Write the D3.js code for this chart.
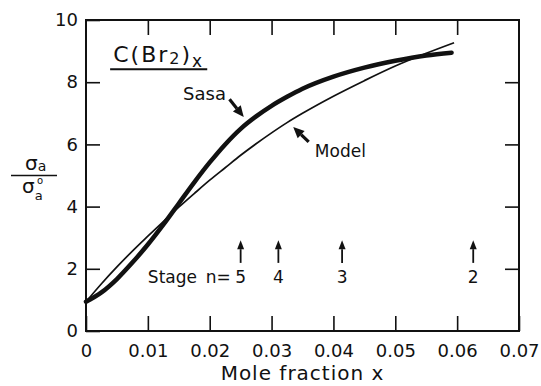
<!DOCTYPE html>
<html>
<head>
<meta charset="utf-8">
<script src="https://cdn.jsdelivr.net/npm/d3@7"></script>
<style>
  body { margin: 0; background: #fff; }
  text { font-family: "DejaVu Sans", sans-serif; fill: #111; }
</style>
</head>
<body>
<div id="graph"></div>
<script>
// values
const xTicks = [0, 0.01, 0.02, 0.03, 0.04, 0.05, 0.06, 0.07];
const yTicks = [0, 2, 4, 6, 8, 10];

// Sasa (thick curve)
const sasaX = [0, 0.0025, 0.005, 0.0075, 0.01, 0.0125, 0.015, 0.0175, 0.02, 0.0225, 0.025, 0.0275, 0.03, 0.0325, 0.035, 0.04, 0.045, 0.05, 0.055, 0.0591];
const sasaY = [0.94, 1.24, 1.67, 2.2, 2.78, 3.42, 4.1, 4.78, 5.42, 6.0, 6.5, 6.9, 7.24, 7.53, 7.79, 8.18, 8.47, 8.69, 8.86, 8.95];

// Model (thin curve)
const modelX = [0, 0.0025, 0.005, 0.0075, 0.01, 0.0125, 0.015, 0.0175, 0.02, 0.0225, 0.025, 0.0275, 0.03, 0.0325, 0.035, 0.04, 0.045, 0.05, 0.055, 0.0595];
const modelY = [0.94, 1.52, 2.06, 2.57, 3.05, 3.52, 3.98, 4.42, 4.85, 5.25, 5.65, 6.02, 6.37, 6.7, 7.0, 7.55, 8.05, 8.52, 8.93, 9.27];

// stage markers
const stageX = [0.025, 0.0311, 0.0414, 0.0626];
const stageLabels = ["5", "4", "3", "2"];

const W = 541, H = 386;
const mLeft = 86, mRight = 519, mTop = 20, mBottom = 331;

const svg = d3.select("#graph").append("svg")
    .attr("width", W)
    .attr("height", H);

const x = d3.scaleLinear().domain([0, 0.07]).range([mLeft, mRight]);
const y = d3.scaleLinear().domain([0, 10]).range([mBottom, mTop]);

// frame
svg.append("rect")
    .attr("x", mLeft).attr("y", mTop)
    .attr("width", mRight - mLeft).attr("height", mBottom - mTop)
    .attr("fill", "none").attr("stroke", "#111").attr("stroke-width", 2);

const xFmt = d => d === 0 ? "0" : d.toFixed(2);

// bottom axis with labels, ticks pointing inward
const gx = svg.append("g")
    .attr("transform", "translate(0," + mBottom + ")")
    .call(d3.axisBottom(x).tickValues(xTicks).tickFormat(xFmt).tickSize(-15).tickPadding(13));
gx.select(".domain").remove();
gx.selectAll("line").attr("stroke", "#111").attr("stroke-width", 1.6);
gx.selectAll("text").attr("font-size", 18).style("font-family", "DejaVu Sans").attr("fill", "#111");

const gxt = svg.append("g")
    .attr("transform", "translate(0," + mTop + ")")
    .call(d3.axisTop(x).tickValues(xTicks.slice(1, -1)).tickFormat("").tickSize(-15));
gxt.select(".domain").remove();
gxt.selectAll("line").attr("stroke", "#111").attr("stroke-width", 1.6);

const gy = svg.append("g")
    .attr("transform", "translate(" + mLeft + ",0)")
    .call(d3.axisLeft(y).tickValues(yTicks).tickSize(-14).tickPadding(8));
gy.select(".domain").remove();
gy.selectAll("line").attr("stroke", "#111").attr("stroke-width", 1.6);
gy.selectAll("text").attr("font-size", 18).style("font-family", "DejaVu Sans").attr("fill", "#111");

const gyr = svg.append("g")
    .attr("transform", "translate(" + mRight + ",0)")
    .call(d3.axisRight(y).tickValues(yTicks.slice(1, -1)).tickFormat("").tickSize(-14));
gyr.select(".domain").remove();
gyr.selectAll("line").attr("stroke", "#111").attr("stroke-width", 1.6);

// curves
const line = d3.line()
    .x(d => x(d[0]))
    .y(d => y(d[1]))
    .curve(d3.curveMonotoneX);

svg.append("path")
    .attr("d", line(modelX.map((v, i) => [v, modelY[i]])))
    .attr("fill", "none").attr("stroke", "#111").attr("stroke-width", 1.7);

svg.append("path")
    .attr("d", line(sasaX.map((v, i) => [v, sasaY[i]])))
    .attr("fill", "none").attr("stroke", "#111").attr("stroke-width", 4.5)
    .attr("stroke-linecap", "round");

// arrow helper: line from tail to tip plus filled head
function arrow(x0, y0, x1, y1, headLen, headW, lw) {
  const px0 = x(x0), py0 = y(y0), px1 = x(x1), py1 = y(y1);
  const a = Math.atan2(py1 - py0, px1 - px0);
  const bx = px1 - headLen * Math.cos(a), by = py1 - headLen * Math.sin(a);
  svg.append("line")
      .attr("x1", px0).attr("y1", py0).attr("x2", bx).attr("y2", by)
      .attr("stroke", "#111").attr("stroke-width", lw);
  const nx = -Math.sin(a) * headW / 2, ny = Math.cos(a) * headW / 2;
  svg.append("polygon")
      .attr("points", [[px1, py1], [bx + nx, by + ny], [bx - nx, by - ny]].map(p => p.join(",")).join(" "))
      .attr("fill", "#111");
}

// Sasa / Model labels and arrows
svg.append("text").attr("x", x(0.0157)).attr("y", y(7.43))
    .attr("font-size", 18).text("Sasa");
arrow(0.0232, 7.45, 0.0255, 6.88, 11, 10, 3.2);

svg.append("text").attr("x", x(0.037)).attr("y", y(5.6))
    .attr("font-size", 17).text("Model");
arrow(0.036, 6.08, 0.0335, 6.56, 11, 10, 3.2);

// title C(Br2)x with underline
const title = svg.append("text").attr("x", x(0.0044)).attr("y", y(8.65))
    .attr("font-size", 22).attr("letter-spacing", 2);
title.append("tspan").text("C(Br");
title.append("tspan").attr("font-size", 16).attr("dy", 2).text("2");
title.append("tspan").attr("dy", -2).text(")");
title.append("tspan").attr("font-size", 17).attr("dy", 5).text("x");
svg.append("line")
    .attr("x1", x(0.0039)).attr("x2", x(0.0196))
    .attr("y1", y(8.42)).attr("y2", y(8.42))
    .attr("stroke", "#111").attr("stroke-width", 2);

// stage arrows
stageX.forEach((sx, i) => {
  arrow(sx, 2.19, sx, 2.92, 9, 7, 1.8);
  svg.append("text").attr("x", x(sx)).attr("y", y(1.54))
      .attr("text-anchor", "middle").attr("font-size", 17)
      .text(stageLabels[i]);
});
svg.append("text").attr("x", x(0.01)).attr("y", y(1.54))
    .attr("font-size", 17).text("Stage");
svg.append("text").attr("x", x(0.0234)).attr("y", y(1.54))
    .attr("text-anchor", "end").attr("font-size", 17).text("n=");

// x axis title
svg.append("text").attr("x", (mLeft + mRight) / 2).attr("y", 380)
    .attr("text-anchor", "middle").attr("font-size", 20)
    .attr("letter-spacing", 1).text("Mole fraction  x");

// y axis title: sigma_a / sigma_a^o
const yl = svg.append("g");
const num = yl.append("text").attr("x", 25).attr("y", 170).attr("font-size", 20);
num.append("tspan").text("σ");
num.append("tspan").attr("font-size", 14).attr("dy", 1).text("a");
yl.append("line").attr("x1", 11).attr("x2", 57).attr("y1", 175.5).attr("y2", 175.5)
    .attr("stroke", "#111").attr("stroke-width", 1.5);
const den = yl.append("text").attr("x", 22).attr("y", 193).attr("font-size", 20);
den.append("tspan").text("σ");
den.append("tspan").attr("font-size", 13).attr("dy", 7).text("a");
den.append("tspan").attr("font-size", 10).attr("x", 37).attr("dy", -16).text("o");
</script>
</body>
</html>
